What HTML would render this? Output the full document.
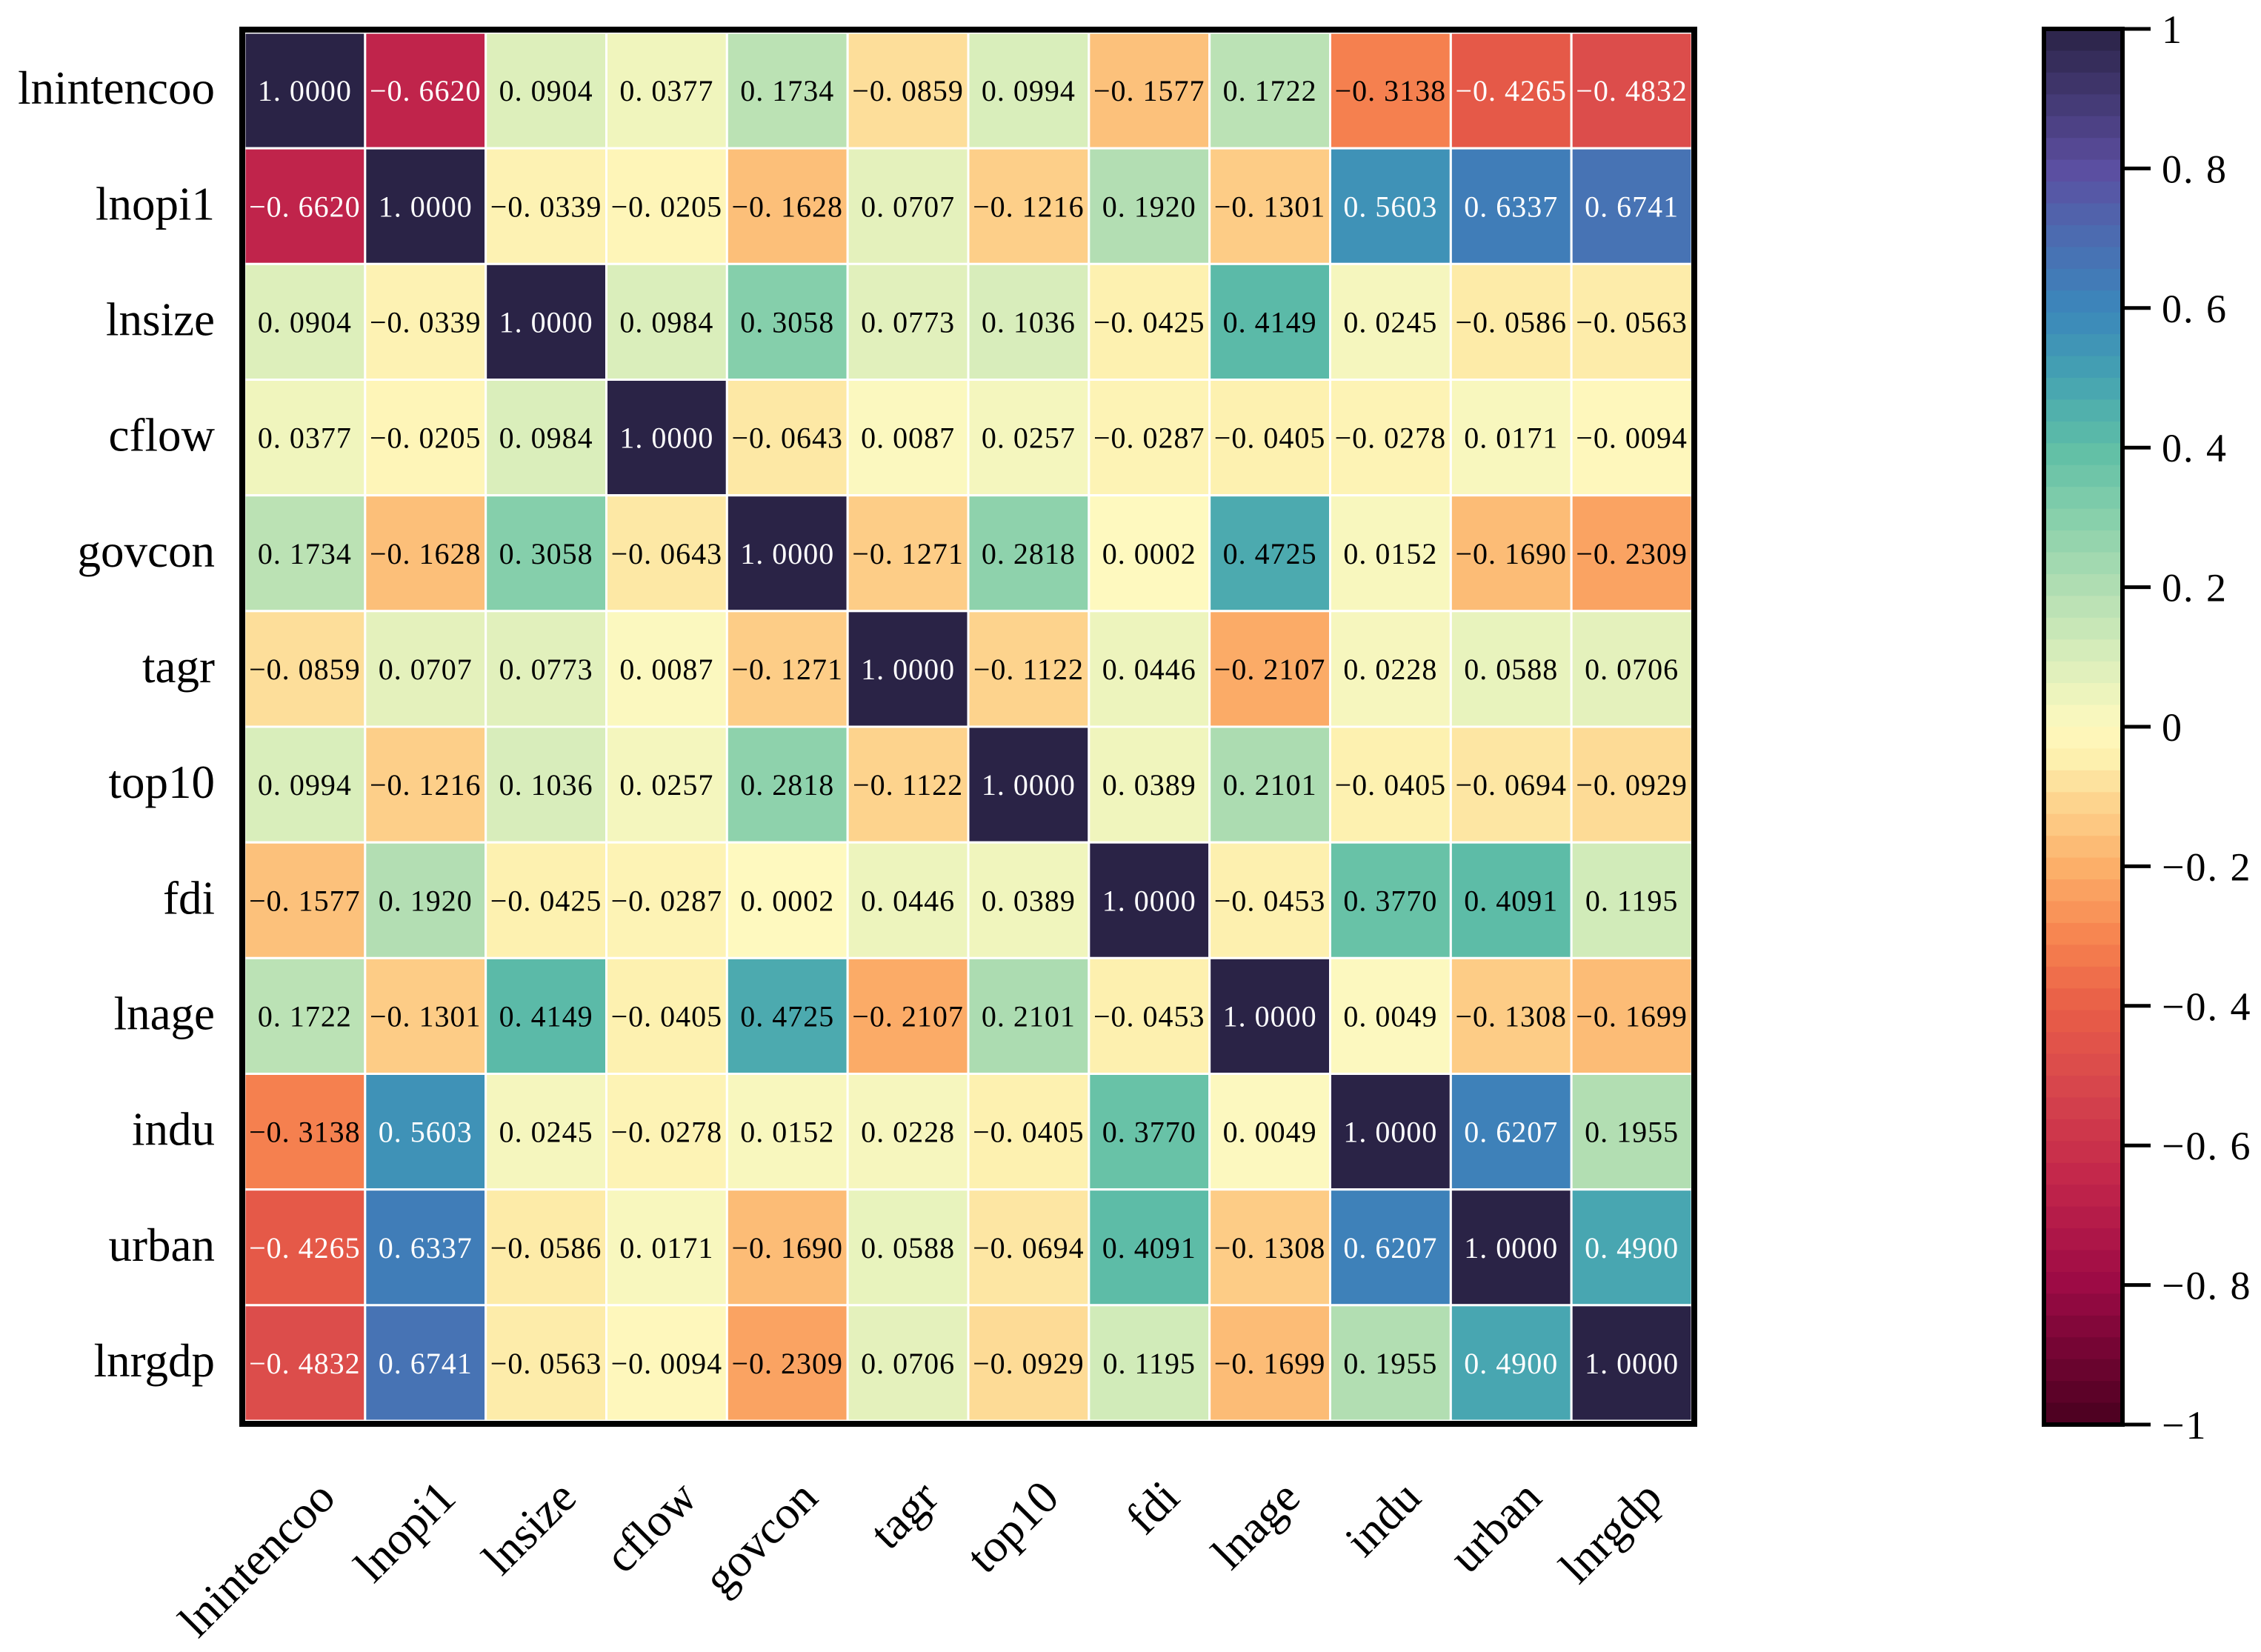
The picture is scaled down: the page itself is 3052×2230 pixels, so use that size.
<!DOCTYPE html>
<html><head><meta charset="utf-8"><style>
html,body{margin:0;padding:0;background:#fff;}
svg{display:block;}
text{font-family:"Liberation Serif",serif;}
</style></head><body>
<svg id="chart" width="3052" height="2230" viewBox="0 0 3052 2230" xmlns="http://www.w3.org/2000/svg"></svg>
<script>
const labels = ["lnintencoo","lnopi1","lnsize","cflow","govcon","tagr","top10","fdi","lnage","indu","urban","lnrgdp"];
const row0 = [1.0000,-0.6620,0.0904,0.0377,0.1734,-0.0859,0.0994,-0.1577,0.1722,-0.3138,-0.4265,-0.4832];
const row1 = [-0.6620,1.0000,-0.0339,-0.0205,-0.1628,0.0707,-0.1216,0.1920,-0.1301,0.5603,0.6337,0.6741];
const row2 = [0.0904,-0.0339,1.0000,0.0984,0.3058,0.0773,0.1036,-0.0425,0.4149,0.0245,-0.0586,-0.0563];
const row3 = [0.0377,-0.0205,0.0984,1.0000,-0.0643,0.0087,0.0257,-0.0287,-0.0405,-0.0278,0.0171,-0.0094];
const row4 = [0.1734,-0.1628,0.3058,-0.0643,1.0000,-0.1271,0.2818,0.0002,0.4725,0.0152,-0.1690,-0.2309];
const row5 = [-0.0859,0.0707,0.0773,0.0087,-0.1271,1.0000,-0.1122,0.0446,-0.2107,0.0228,0.0588,0.0706];
const row6 = [0.0994,-0.1216,0.1036,0.0257,0.2818,-0.1122,1.0000,0.0389,0.2101,-0.0405,-0.0694,-0.0929];
const row7 = [-0.1577,0.1920,-0.0425,-0.0287,0.0002,0.0446,0.0389,1.0000,-0.0453,0.3770,0.4091,0.1195];
const row8 = [0.1722,-0.1301,0.4149,-0.0405,0.4725,-0.2107,0.2101,-0.0453,1.0000,0.0049,-0.1308,-0.1699];
const row9 = [-0.3138,0.5603,0.0245,-0.0278,0.0152,0.0228,-0.0405,0.3770,0.0049,1.0000,0.6207,0.1955];
const row10 = [-0.4265,0.6337,-0.0586,0.0171,-0.1690,0.0588,-0.0694,0.4091,-0.1308,0.6207,1.0000,0.4900];
const row11 = [-0.4832,0.6741,-0.0563,-0.0094,-0.2309,0.0706,-0.0929,0.1195,-0.1699,0.1955,0.4900,1.0000];
const matrix = [row0,row1,row2,row3,row4,row5,row6,row7,row8,row9,row10,row11];
const cbTicks = [1,0.8,0.6,0.4,0.2,0,-0.2,-0.4,-0.6,-0.8,-1];

const NS="http://www.w3.org/2000/svg";
const svg=document.getElementById('chart');
function mk(tag,attrs,parent){const e=document.createElementNS(NS,tag);for(const k in attrs)e.setAttribute(k,attrs[k]);(parent||svg).appendChild(e);return e;}

const stops=[[1,[42,35,70]],[0.8,[92,78,160]],[0.7,[75,108,177]],[0.6,[59,134,187]],[0.5,[69,163,178]],[0.4,[95,190,166]],[0.3,[135,208,171]],[0.2,[176,221,178]],[0.1,[217,238,187]],[0,[254,249,191]],[-0.05,[253,239,173]],[-0.1,[253,216,146]],[-0.2,[252,176,106]],[-0.3,[247,133,80]],[-0.4,[233,94,71]],[-0.5,[217,74,76]],[-0.65,[195,38,75]],[-0.8,[156,10,69]],[-1,[72,0,31]]];
function color(v){
  for(let i=0;i<stops.length-1;i++){const a=stops[i],b=stops[i+1];
    if(v<=a[0]&&v>=b[0]){const t=(a[0]-v)/(a[0]-b[0]);const c=a[1].map((x,j)=>Math.round(x+(b[1][j]-x)*t));return `rgb(${c[0]},${c[1]},${c[2]})`;}}
  return v>0?'rgb(42,35,70)':'rgb(72,0,31)';
}
// axes
const X0=330,Y0=44,CW=(2284-330)/12,CH=(1918-44)/12;
const xPos=i=>X0+i*CW, yPos=i=>Y0+i*CH;
const cells=mk('g',{});


matrix.forEach((row,r)=>row.forEach((v,c)=>{
  const rect=mk('rect',{x:xPos(c),y:yPos(r),width:CW,height:CH,fill:color(v),stroke:'#fff','stroke-width':3},cells);
  
  
  const t=mk('text',{x:xPos(c)+CW/2,y:yPos(r)+CH/2+14,'text-anchor':'middle','font-size':40,fill:(v>0.48||v<-0.4)?'#fff':'#000','letter-spacing':'1'},cells);
  t.textContent=(v<0?'\u2212':'')+Math.abs(v).toFixed(4).replace('.','. ');
  
  
}));
const frame=mk('rect',{x:327,y:40,width:1960,height:1882,fill:'none',stroke:'#000','stroke-width':8});


labels.forEach((l,i)=>{
  const t=mk('text',{x:290,y:yPos(i)+CH/2+18,'text-anchor':'end','font-size':63});
  t.textContent=l;
  
  
  const cx=xPos(i)+CW/2+44, cy=2025;
  const u=mk('text',{x:cx,y:cy,'text-anchor':'end','font-size':63,transform:`rotate(-45 ${cx} ${cy})`});
  u.textContent=l;
  
  
});
// colorbar
const CBX=2759,CBW=106,CBT=39,CBB=1923;
const cbY=v=>CBT+(1-v)*(CBB-CBT)/2;
const cb=mk('g',{});


const N=64;
for(let k=0;k<N;k++){
  const v1=1-2*k/N, v2=1-2*(k+1)/N;
  mk('rect',{x:CBX,y:cbY(v1),width:CBW,height:cbY(v2)-cbY(v1)+0.5,fill:color((v1+v2)/2)},cb);
}
mk('rect',{x:CBX,y:CBT,width:CBW,height:CBB-CBT,fill:'none',stroke:'#000','stroke-width':6},cb);
cbTicks.forEach(v=>{
  const y=cbY(v);
  const ln=mk('line',{x1:CBX+CBW,x2:CBX+CBW+38,y1:y,y2:y,stroke:'#000','stroke-width':5},cb);
  
  
  const t=mk('text',{x:2918,y:y+19,'font-size':54,'letter-spacing':'2'},cb);
  t.textContent=(v===1||v===-1||v===0)?(v<0?'\u22121':String(v)):((v<0?'\u2212':'')+Math.abs(v).toFixed(1).replace('.','. '));
  
  
});
</script>
</body></html>
